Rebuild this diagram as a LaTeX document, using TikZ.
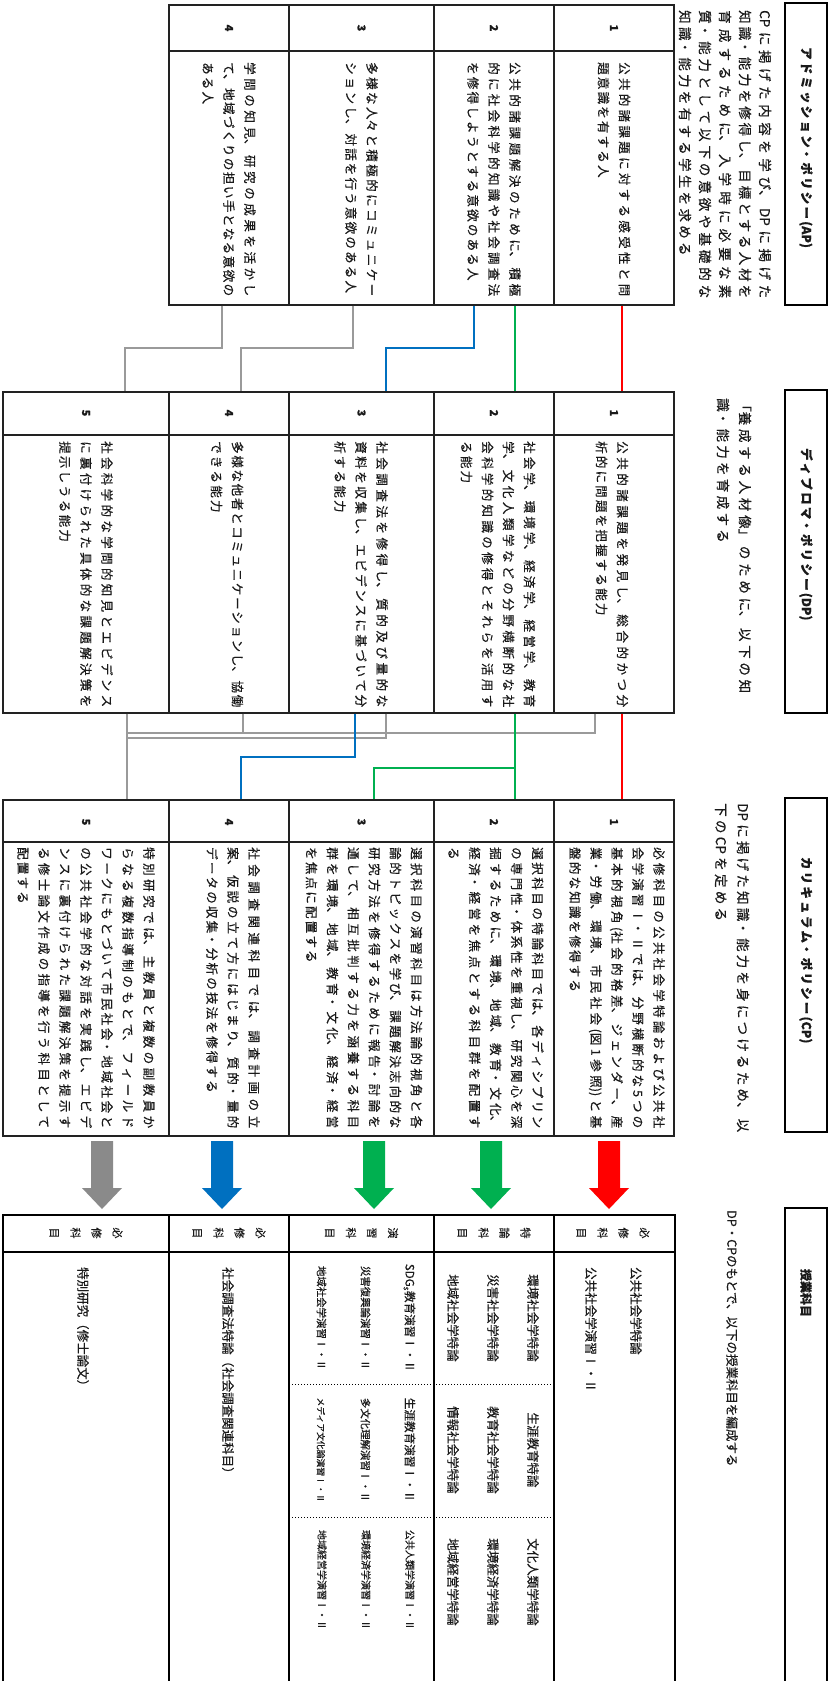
\documentclass[tikz,border=0pt]{standalone}
\usepackage{fontspec}
\setmainfont{Noto Sans CJK JP}[FakeBold=0.4]
\usetikzlibrary{fit}
% Japanese line breaking; the inter-character glue also gives the grid-like pitch
\XeTeXlinebreaklocale "ja"
\XeTeXlinebreakskip=2.2pt plus 6pt minus 2pt
\tolerance=9999

\definecolor{ink}{HTML}{1A1A1A}
\definecolor{frame}{HTML}{222222}
\definecolor{linkred}{HTML}{FF0000}
\definecolor{linkgreen}{HTML}{00B050}
\definecolor{linkblue}{HTML}{0070C0}
\definecolor{linkgray}{HTML}{9A9A9A}
\definecolor{arrowgray}{HTML}{8A8A8A}

% thick downward block arrow centred on x = #1
\newcommand\blockarrow[2]{%
  \fill[#2] (#1-11,1141) -- (#1+11,1141) -- (#1+11,1188) -- (#1+20,1188)
    -- (#1,1209) -- (#1-20,1188) -- (#1-11,1188) -- cycle;}
% wider character pitch for the lead sentences
\newcommand\leadskip{\XeTeXlinebreakskip=3.3pt plus 6pt minus 2.2pt\relax}
% small course names in the seminar row
\newcommand\semsize[1]{\fontsize{#1}{#1}\selectfont\XeTeXlinebreakskip=0.6pt plus 1pt minus 0.5pt\relax}

\begin{document}
\begin{tikzpicture}[x=1pt, y=-1pt,
  vtext/.style={rotate=-90, inner sep=0pt, text=ink},
  headbox/.style={draw=black, line width=2.8pt, inner sep=0pt},
  cellbox/.style={draw=frame, line width=1.3pt, inner sep=0pt},
  subjbox/.style={draw=black, line width=2.2pt, inner sep=0pt},
  headtext/.style={vtext, text width=#1, align=justify, font=\bfseries\fontsize{12.5}{14}\selectfont},
  introtext/.style 2 args={vtext, anchor=west, text width=#1, align=justify, font=\fontsize{13.5}{#2}\selectfont},
  celltext/.style={vtext, anchor=west, text width=#1, align=justify, font=\fontsize{12.5}{21}\selectfont},
  num/.style={vtext, font=\bfseries\fontsize{11}{11}\selectfont},
  tag/.style={vtext, align=center, font=\fontsize{11}{21}\selectfont},
  subjtext/.style={vtext, font=\fontsize{12.5}{#1}\selectfont},
  link/.style={line width=2pt},
  redlink/.style={link, draw=linkred},
  greenlink/.style={link, draw=linkgreen},
  bluelink/.style={link, draw=linkblue},
  graylink/.style={link, draw=linkgray, line width=2.2pt},
  rowrule/.style={draw=frame, line width=1.3pt},
  dotrule/.style={draw=black, line width=1pt, dotted}]

\fill[white] (0,0) rectangle (831,1681);
\useasboundingbox (0,0) rectangle (831,1681);

% ---------------- section headers ----------------
\node[headbox, fit={(785,3)(827,305)}] (aphead) {};
\node[headtext=220] (aptitle) at (806,157) {\parfillskip=0pt\relax アドミッション・ポリシー(AP)};
\node[headbox, fit={(785,390)(827,713)}] (dphead) {};
\node[headtext=224] (dptitle) at (806,560) {\parfillskip=0pt\relax ディプロマ・ポリシー(DP)};
\node[headbox, fit={(785,798)(827,1132)}] (cphead) {};
\node[headtext=218] (cptitle) at (806,966) {\parfillskip=0pt\relax カリキュラム・ポリシー(CP)};
\node[headbox, fit={(785,1208)(827,1700)}] (sbhead) {};
\node[vtext, font=\bfseries\fontsize{12}{12}\selectfont] (sbtitle) at (806,1293) {授業科目};

% ---------------- lead sentences ----------------
\node[introtext={288}{20}] (apintro) at (725,10) {\leadskip CPに掲げた内容を学び、DPに掲げた\linebreak 知識・能力を修得し、目標とする人材を\linebreak 育成するために、入学時に必要な素\linebreak 質・能力として以下の意欲や基礎的な\linebreak 知識・能力を有する学生を求める};
\node[introtext={295}{22}] (dpintro) at (734,398) {\leadskip 「養成する人材像」のために、以下の知\linebreak 識・能力を育成する};
\node[introtext={329}{22}] (cpintro) at (732,803) {\leadskip DPに掲げた知識・能力を身につけるため、以\linebreak 下のCPを定める};
\node[vtext, anchor=west, font=\fontsize{12.5}{14}\selectfont] (sbintro) at (732,1210) {DP・CPのもとで、以下の授業科目を編成する};

% ---------------- admission policy table ----------------
\node[cellbox, fit={(554,5)(674,305)}] (ap1) {};
\node[cellbox, fit={(434,5)(554,305)}] (ap2) {};
\node[cellbox, fit={(289,5)(434,305)}] (ap3) {};
\node[cellbox, fit={(169,5)(289,305)}] (ap4) {};
\draw[rowrule] (169,51) -- (674,51);
\node[num] (apn1) at (614,28) {1};
\node[num] (apn2) at (494,28) {2};
\node[num] (apn3) at (361.5,28) {3};
\node[num] (apn4) at (229,28) {4};
\node[celltext=234] (apt1) at (614,62) {公共的諸課題に対する感受性と問\linebreak 題意識を有する人};
\node[celltext=234] (apt2) at (494,62) {公共的諸課題解決のために、積極\linebreak 的に社会科学的知識や社会調査法\linebreak を修得しようとする意欲のある人};
\node[celltext=234] (apt3) at (361.5,62) {多様な人々と積極的にコミュニケー\linebreak ションし、対話を行う意欲のある人};
\node[celltext=234] (apt4) at (229,62) {学問の知見、研究の成果を活かし\linebreak て、地域づくりの担い手となる意欲の\linebreak ある人};

% ---------------- diploma policy table ----------------
\node[cellbox, fit={(554,392)(674,713)}] (dp1) {};
\node[cellbox, fit={(434,392)(554,713)}] (dp2) {};
\node[cellbox, fit={(289,392)(434,713)}] (dp3) {};
\node[cellbox, fit={(169,392)(289,713)}] (dp4) {};
\node[cellbox, fit={(3,392)(169,713)}] (dp5) {};
\draw[rowrule] (3,435) -- (674,435);
\node[num] (dpn1) at (614,413) {1};
\node[num] (dpn2) at (494,413) {2};
\node[num] (dpn3) at (361.5,413) {3};
\node[num] (dpn4) at (229,413) {4};
\node[num] (dpn5) at (86,413) {5};
\node[celltext=266] (dpt1) at (612,441) {公共的諸課題を発見し、総合的かつ分\linebreak 析的に問題を把握する能力};
\node[celltext=266] (dpt2) at (498,441) {社会学、環境学、経済学、経営学、教育\linebreak 学、文化人類学などの分野横断的な社\linebreak 会科学的知識の修得とそれらを活用す\linebreak る能力};
\node[celltext=266] (dpt3) at (361,441) {社会調査法を修得し、質的及び量的な\linebreak 資料を収集し、エビデンスに基づいて分\linebreak 析する能力};
\node[celltext=266] (dpt4) at (227,441) {多様な他者とコミュニケーションし、協働\linebreak できる能力};
\node[celltext=266] (dpt5) at (86,441) {社会科学的な学問的知見とエビデンス\linebreak に裏付けられた具体的な課題解決策を\linebreak 提示しうる能力};

% ---------------- curriculum policy table ----------------
\node[cellbox, fit={(554,800)(674,1136)}] (cp1) {};
\node[cellbox, fit={(434,800)(554,1136)}] (cp2) {};
\node[cellbox, fit={(289,800)(434,1136)}] (cp3) {};
\node[cellbox, fit={(169,800)(289,1136)}] (cp4) {};
\node[cellbox, fit={(3,800)(169,1136)}] (cp5) {};
\draw[rowrule] (3,842) -- (674,842);
\node[num] (cpn1) at (614,822) {1};
\node[num] (cpn2) at (494,822) {2};
\node[num] (cpn3) at (361.5,822) {3};
\node[num] (cpn4) at (229,822) {4};
\node[num] (cpn5) at (86,822) {5};
\node[celltext=281] (cpt1) at (617,847) {必修科目の公共社会学特論および公共社\linebreak 会学演習Ⅰ・Ⅱでは、分野横断的な5つの\linebreak 基本的視角(社会的格差、ジェンダー、産\linebreak 業・労働、環境、市民社会(図1参照))と基\linebreak 盤的な知識を修得する};
\node[celltext=281] (cpt2) at (496,847) {選択科目の特論科目では、各ディシプリン\linebreak の専門性・体系性を重視し、研究関心を深\linebreak 掘するために、環境、地域、教育・文化、\linebreak 経済・経営を焦点とする科目群を配置す\linebreak る};
\node[celltext=281] (cpt3) at (364,847) {選択科目の演習科目は方法論的視角と各\linebreak 論的トピックスを学び、課題解決志向的な\linebreak 研究方法を修得するために報告・討論を\linebreak 通して、相互批判する力を涵養する科目\linebreak 群を環境、地域、教育・文化、経済・経営\linebreak を焦点に配置する};
\node[celltext=281] (cpt4) at (233,847) {社会調査関連科目では、調査計画の立\linebreak 案、仮説の立て方にはじまり、質的・量的\linebreak データの収集・分析の技法を修得する};
\node[celltext=281] (cpt5) at (86,847) {特別研究では、主教員と複数の副教員か\linebreak らなる複数指導制のもとで、フィールド\linebreak ワークにもとづいて市民社会・地域社会と\linebreak の公共社会学的な対話を実践し、エビデ\linebreak ンスに裏付けられた課題解決策を提示す\linebreak る修士論文作成の指導を行う科目として\linebreak 配置する};

% ---------------- course table ----------------
\node[subjbox, fit={(554,1215)(675,1700)}] (sb1) {};
\node[subjbox, fit={(434,1215)(554,1700)}] (sb2) {};
\node[subjbox, fit={(289,1215)(434,1700)}] (sb3) {};
\node[subjbox, fit={(169,1215)(289,1700)}] (sb4) {};
\node[subjbox, fit={(3,1215)(169,1700)}] (sb5) {};
\draw[draw=black, line width=1.6pt] (3,1252) -- (675,1252);
\draw[dotrule] (289,1384) -- (554,1384);
\draw[dotrule] (289,1517) -- (554,1517);
\node[tag] (sbl1) at (613,1233) {必\\修\\科\\目};
\node[tag] (sbl2) at (494,1233) {特\\論\\科\\目};
\node[tag] (sbl3) at (361.5,1233) {演\\習\\科\\目};
\node[tag] (sbl4) at (229,1233) {必\\修\\科\\目};
\node[tag] (sbl5) at (86,1233) {必\\修\\科\\目};
\node[subjtext=45, anchor=west, align=left] (sbt1) at (613.5,1267) {公共社会学特論\\公共社会学演習Ⅰ・Ⅱ};
\node[subjtext=40, align=center] (sbt2a) at (493,1318) {環境社会学特論\\災害社会学特論\\地域社会学特論};
\node[subjtext=40, align=center] (sbt2b) at (493,1450) {生涯教育特論\\教育社会学特論\\情報社会学特論};
\node[subjtext=40, align=center] (sbt2c) at (493,1582) {文化人類学特論\\環境経済学特論\\地域経営学特論};
\node[subjtext=44, align=center] (sbt3a) at (366,1318) {{\semsize{11.6}SDG\textsubscript{s}教育演習Ⅰ・Ⅱ}\\{\semsize{10.4}災害復興論演習Ⅰ・Ⅱ}\\{\semsize{10.4}地域社会学演習Ⅰ・Ⅱ}};
\node[subjtext=44, align=center] (sbt3b) at (366,1450) {{\semsize{11.6}生涯教育演習Ⅰ・Ⅱ}\\{\semsize{10.4}多文化理解演習Ⅰ・Ⅱ}\\{\semsize{8.8}メディア文化論演習Ⅰ・Ⅱ}};
\node[subjtext=44, align=center] (sbt3c) at (366,1580) {{\semsize{10}公共人類学演習Ⅰ・Ⅱ}\\{\semsize{10}環境経済学演習Ⅰ・Ⅱ}\\{\semsize{10}地域経営学演習Ⅰ・Ⅱ}};
\node[subjtext=14, anchor=west] (sbt4) at (228,1267) {社会調査法特論（社会調査関連科目）};
\node[subjtext=14, anchor=west] (sbt5) at (83,1267) {特別研究（修士論文）};

% ---------------- lanes of the AP -> DP links ----------------
\coordinate (ar) at (622,348);
\coordinate (ag) at (515,348);
\coordinate (ab1) at (474,348);
\coordinate (ab2) at (386,348);
\coordinate (ak1) at (353,348);
\coordinate (ak2) at (241,348);
\coordinate (ak3) at (222,348);
\coordinate (ak4) at (125,348);

\draw[redlink] (ap1.south -| ar) -- (dp1.north -| ar);
\draw[greenlink] (ap2.south -| ag) -- (dp2.north -| ag);
\draw[bluelink] (ap2.south -| ab1) |- (ab2) -- (dp3.north -| ab2);
\draw[graylink] (ap3.south -| ak1) |- (ak2) -- (dp4.north -| ak2);
\draw[graylink] (ap4.south -| ak3) |- (ak4) -- (dp5.north -| ak4);

% ---------------- lanes of the DP -> CP links ----------------
\coordinate (dk1) at (595,733);
\coordinate (dk3) at (386,738);
\coordinate (dk4) at (243,733);
\coordinate (dk5) at (127,733);
\coordinate (dk5b) at (127,738);
\coordinate (dg1) at (515,768);
\coordinate (dg2) at (374,768);
\coordinate (db1) at (355,757);
\coordinate (db2) at (241,757);

\draw[graylink] (dp1.south -| dk1) |- (dk5);
\draw[graylink] (dp3.south -| dk3) |- (dk5b);
\draw[graylink] (dp4.south -| dk4) -- (dk4);
\draw[graylink] (dp5.south -| dk5) -- (cp5.north -| dk5);
\draw[redlink] (dp1.south -| ar) -- (cp1.north -| ar);
\draw[greenlink] (dp2.south -| dg1) -- (cp2.north -| dg1);
\draw[greenlink] (dg1) -| (cp3.north -| dg2);
\draw[bluelink] (dp3.south -| db1) |- (db2) -- (cp4.north -| db2);

% ---------------- block arrows CP -> courses ----------------
\blockarrow{609}{linkred}
\blockarrow{491}{linkgreen}
\blockarrow{374}{linkgreen}
\blockarrow{222}{linkblue}
\blockarrow{102}{arrowgray}
\end{tikzpicture}
\end{document}
